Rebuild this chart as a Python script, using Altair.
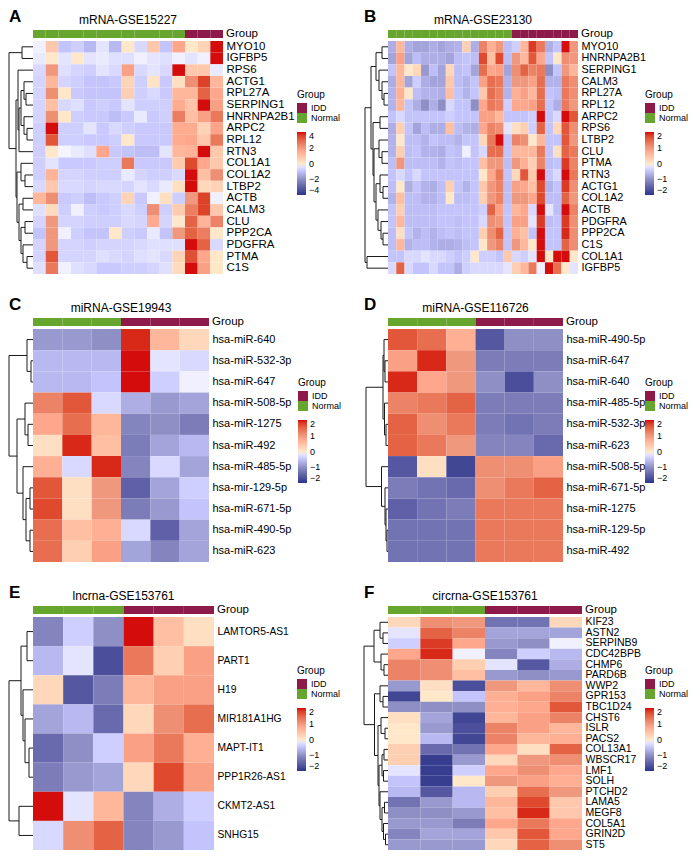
import altair as alt
import pandas as pd

FONT = "Liberation Sans"
HEAT_COLORS = ["#2C3589", "#8E8FC4", "#FFFFFF", "#F0987E", "#D40C0C"]
GROUP_NAMES = ["IDD", "Normal"]
GROUP_COLORS = ["#8E1A4A", "#66A52E"]
H = 233

# ---------------- Panel A: mRNA-GSE15227 ----------------
A_genes = ["MYO10", "IGFBP5", "RPS6", "ACTG1", "RPL27A", "SERPING1", "HNRNPA2B1", "ARPC2",
           "RPL12", "RTN3", "COL1A1", "COL1A2", "LTBP2", "ACTB", "CALM3", "CLU", "PPP2CA",
           "PDGFRA", "PTMA", "C1S"]
A_groups = ["Normal"] * 12 + ["IDD"] * 3
A_values = [
    [-0.2, 0.8, -1.0, -0.8, -1.2, -0.4, -1.2, 0.0, -0.6, 0.8, -1.0, 1.6, 0.0, 0.5, 4.0],
    [-0.3, 0.0, -0.4, 0.0, -0.4, -0.3, -0.5, -0.5, -0.2, -0.4, -0.5, -0.2, -0.4, -0.2, 4.0],
    [-0.6, 2.0, -0.5, -0.7, -0.8, -0.4, -0.6, 1.8, -0.6, -0.4, -0.6, 4.0, 0.8, 0.8, -0.3],
    [-0.7, 1.2, -0.7, -0.8, -1.0, -1.0, -0.9, 0.5, -0.8, 0.1, -0.9, 0.2, 2.2, 3.5, 1.2],
    [-0.7, 2.2, 0.0, -0.9, -1.0, -1.0, -1.0, 0.6, -0.8, -0.6, -0.9, 1.2, 1.2, 3.0, 1.6],
    [-0.7, 1.0, -0.6, -0.5, -0.9, -0.8, -0.9, -0.4, -0.8, -0.8, -0.8, 1.5, 0.9, 4.0, 1.8],
    [-0.7, 2.2, 0.0, -0.8, -0.9, -0.9, -1.1, -0.9, -0.3, -0.9, -0.8, 2.5, 1.0, 1.8, 2.6],
    [-0.8, 4.0, -0.8, -0.8, -0.4, -0.9, -0.6, -0.8, -0.9, -0.9, -0.9, 1.5, 1.5, 0.5, 1.7],
    [-0.8, 3.2, -0.8, -0.8, -0.9, -0.9, -0.8, 0.0, -0.9, -0.9, -0.9, 1.5, 1.6, 0.8, 2.6],
    [-0.8, 0.0, -0.1, -0.3, -0.5, 1.6, -0.9, -1.0, -1.1, -1.1, -0.4, 1.2, 1.3, 4.0, 0.8],
    [-0.8, -0.4, -0.9, -0.9, -0.9, -0.8, -0.8, 2.6, -0.9, -0.9, -0.9, 0.7, 3.4, 1.6, 0.8],
    [-0.8, 1.3, -0.7, -0.7, -0.8, -0.8, -0.8, -0.3, -0.7, -0.8, -0.8, -0.6, 4.0, 1.0, 2.2],
    [-0.6, 0.8, -0.6, -0.6, -0.7, -0.6, -0.6, -0.7, -0.4, -0.6, -0.3, 0.2, 4.0, 0.4, 0.5],
    [1.2, 2.2, -0.9, -0.8, -1.1, -0.9, -0.8, 0.5, -0.9, -0.2, 0.2, -0.8, 2.0, 3.5, -0.2],
    [-0.5, 0.3, -0.8, -0.2, -0.8, -0.9, -0.8, -0.6, -0.8, 2.2, -0.8, 0.7, 2.5, 3.5, 0.8],
    [-0.7, 2.0, -0.7, -0.7, -0.8, -0.8, -0.8, -0.6, -0.7, 1.5, -0.7, 0.0, 3.0, 1.3, 2.4],
    [-1.0, 2.0, -0.2, -0.8, -1.0, -1.0, 0.0, -0.8, -0.9, -0.3, -1.0, 2.0, 3.0, 2.5, 0.0],
    [-0.7, 2.0, -0.7, -0.7, -0.8, -0.7, -0.7, -0.7, -0.6, -0.5, -0.5, -0.5, 4.0, 3.0, -0.6],
    [-0.7, 3.2, -0.7, -0.7, -0.7, -0.5, -0.6, -0.7, -0.5, -0.4, -0.6, 0.5, 3.3, 1.6, 0.0],
    [-0.5, 2.6, -0.2, -0.5, -0.6, -0.9, -0.9, -0.8, -0.8, -0.7, -0.5, 0.3, 4.0, 1.8, 0.0],
]
A_tree = (24, (11, "MYO10", "IGFBP5"),
          (17, (15, "RPS6", (14, (12, (9, "ACTG1", (7, "RPL27A", "SERPING1")),
                                      (9, "HNRNPA2B1", (6, "ARPC2", "RPL12"))), "RTN3")),
               (16, (12, "COL1A1", (8, "COL1A2", "LTBP2")),
                    (14, (10, "ACTB", "CALM3"),
                         (12, (8, "CLU", "PPP2CA"), (10, "PDGFRA", (6, "PTMA", "C1S")))))))

# ---------------- Panel B: mRNA-GSE23130 ----------------
B_genes = ["MYO10", "HNRNPA2B1", "SERPING1", "CALM3", "RPL27A", "RPL12", "ARPC2", "RPS6",
           "LTBP2", "CLU", "PTMA", "RTN3", "ACTG1", "COL1A2", "ACTB", "PDGFRA", "PPP2CA",
           "C1S", "COL1A1", "IGFBP5"]
B_groups = ["Normal"] * 15 + ["IDD"] * 8
B_values = [
    [-0.7, 0.6, -0.7, -0.8, -0.8, -0.7, -0.8, -0.7, -0.65, 0.3, -0.7, 1.2, 0.7, 1.0, -0.55, -0.4, 0.6, 1.8, 1.3, -0.7, -0.5, 2.0, 1.0],
    [-0.8, 0.9, -0.8, -0.55, -0.7, -0.7, -0.7, -0.8, -0.55, -0.5, -0.55, 1.7, 0.5, 1.7, -0.55, 1.0, 0.6, 1.6, 0.8, -0.5, 0.0, 1.1, 1.0],
    [-0.5, 0.6, 0.0, 0.2, -0.9, -0.55, -0.8, 0.2, -0.55, -0.5, -0.8, 1.4, 0.8, 0.9, -0.8, 1.1, 1.5, 1.2, 1.3, -1.0, -0.5, 1.0, 0.6],
    [-0.7, 0.6, -0.8, -0.4, -0.7, -0.8, -0.8, 0.4, -0.55, -0.65, -0.5, 0.9, 1.4, 1.3, -0.65, 1.0, 1.0, 0.9, 1.4, -0.65, -0.65, 1.3, 1.1],
    [-0.65, 0.7, 0.0, -0.55, -0.65, -0.65, -0.7, 0.5, -0.5, -0.65, -0.5, 0.4, 1.4, 1.2, -0.65, 0.7, 0.9, 0.6, 1.4, -0.5, -0.55, 1.3, 1.1],
    [-0.65, 0.6, -0.5, -0.7, -1.0, -0.7, -1.0, -0.3, -0.5, -0.5, -1.0, 0.8, 1.3, 1.2, -0.4, 0.8, 0.8, 0.9, 1.4, -0.5, -0.7, 1.3, 1.0],
    [-0.5, -0.3, -0.5, -0.5, -0.5, -0.5, -0.5, -0.4, -0.5, -0.5, -0.5, 0.9, 0.9, 0.6, -0.5, -0.5, -0.5, -0.4, 2.0, -0.5, -0.3, 2.0, 1.6],
    [-0.7, 0.3, -0.5, -0.8, -0.55, -0.7, -0.7, 0.5, -0.55, -0.65, -0.7, 0.8, 1.2, 1.1, -0.2, 0.1, 0.3, -0.4, 1.5, -0.5, 0.2, 1.6, 1.1],
    [-0.65, 0.0, -0.55, -0.55, -0.65, -0.5, -0.55, -0.55, -0.65, -0.5, -0.5, 0.2, 1.3, 2.0, -0.5, 1.2, 1.1, 0.0, 0.6, -0.5, -0.5, 1.6, 1.0],
    [-0.65, 0.3, -0.55, -0.5, -0.65, -0.65, -0.7, -0.5, -0.55, -0.1, -0.5, -0.3, 1.4, 1.4, -0.5, 0.6, 0.6, 0.6, 1.3, -0.5, 0.1, 1.5, 1.3],
    [-0.55, 1.0, -0.55, -0.55, -0.55, -0.55, -0.65, -0.5, -0.55, -0.5, -0.5, 0.5, 1.0, 1.0, -0.55, 1.0, 0.7, 0.3, 1.2, -0.55, -0.5, 1.8, 1.2],
    [-0.5, -0.3, -0.5, -0.3, -0.5, -0.5, -0.5, -0.5, -0.5, -0.5, -0.5, 0.0, 0.8, 1.3, -0.5, 0.2, 1.6, 0.4, 2.0, -0.5, -0.3, 2.0, 1.3],
    [-0.55, 0.0, -0.7, -0.5, -0.65, -0.7, -0.55, 0.3, -0.5, -0.65, -0.5, 0.4, 1.0, 1.2, -0.55, 0.9, 0.8, 0.5, 1.7, -0.65, -0.5, 1.8, 1.1],
    [-0.65, 0.5, -0.55, -0.55, -0.65, -0.65, -0.55, 0.0, -0.55, -0.55, -0.5, 0.3, 1.0, 1.2, -0.55, 1.0, 1.0, 0.8, 1.7, -0.55, -0.55, 1.5, 1.0],
    [-0.5, 0.3, -0.55, -0.55, -0.55, -0.55, -0.5, -0.5, -0.5, -0.5, -0.5, -0.4, 1.5, 0.9, -0.5, 0.6, 0.8, -0.3, 2.0, -0.2, -0.55, 2.0, 1.2],
    [-0.5, 0.6, -0.55, -0.55, -0.55, -0.55, -0.5, -0.5, -0.55, -0.5, -0.5, -0.3, 1.1, 1.0, -0.5, 0.9, 0.9, -0.2, 1.8, -0.55, -0.5, 1.8, 1.1],
    [-0.55, 0.1, -0.5, -0.65, -0.55, -0.65, -0.55, -0.5, -0.55, -0.5, -0.5, 0.3, 1.1, 1.5, -0.5, 0.7, 0.5, -0.5, 2.0, -0.5, -0.5, 1.9, 1.1],
    [-0.55, 0.6, -0.65, -0.55, -0.55, -0.65, -0.7, -0.7, -0.65, -0.55, -0.5, 0.0, 1.0, 1.2, -0.5, 1.0, 0.6, 0.0, 2.0, -0.5, -0.5, 1.5, 1.1],
    [-0.5, -0.5, -0.3, -0.3, -0.2, -0.3, -0.3, -0.4, -0.5, -0.4, 0.0, -0.4, -0.4, -0.5, 0.4, -0.3, -0.4, -0.2, 2.0, 0.0, 2.0, 2.0, 0.0],
    [-0.3, 1.5, -0.3, -0.5, -0.5, -0.3, -0.5, -0.5, -0.7, -0.4, -0.3, -0.3, -0.3, -0.3, -0.2, 0.3, 0.6, 1.3, -0.1, 2.0, 1.4, 0.0, -0.2],
]
B_tree = (23, (17, (12, (6, "MYO10", "HNRNPA2B1"),
                        (9, "SERPING1", (6, "CALM3", (4, "RPL27A", "RPL12")))),
                   (15, (8, "ARPC2", "RPS6"),
                        (14, (9, "LTBP2", (6, "CLU", "PTMA")),
                             (12, (8, "RTN3", (5, "ACTG1", "COL1A2")),
                                  (10, "ACTB", (7, "PDGFRA", (5, "PPP2CA", "C1S"))))))),
          (21, "COL1A1", "IGFBP5"))

# ---------------- Panel C: miRNA-GSE19943 ----------------
C_genes = ["hsa-miR-640", "hsa-miR-532-3p", "hsa-miR-647", "hsa-miR-508-5p", "hsa-miR-1275",
           "hsa-miR-492", "hsa-miR-485-5p", "hsa-mir-129-5p", "hsa-miR-671-5p", "hsa-miR-490-5p",
           "hsa-miR-623"]
C_groups = ["Normal"] * 3 + ["IDD"] * 3
C_values = [
    [-0.9, -0.9, -1.0, 1.9, 0.6, 0.2],
    [-0.6, -0.6, -0.6, 2.0, -0.2, -0.3],
    [-0.6, -0.6, -0.5, 2.0, -0.4, -0.1],
    [1.2, 1.6, -0.3, -0.7, -0.9, -0.8],
    [0.8, 1.4, 0.6, -1.1, -1.0, -1.2],
    [0.1, 1.9, 0.5, -1.2, -0.8, -0.6],
    [0.7, -0.3, 1.9, -1.1, -0.3, -0.8],
    [1.6, 0.1, 1.0, -1.5, -0.8, -0.4],
    [1.7, 0.1, 1.0, -1.2, -0.9, -0.5],
    [1.4, 0.5, 0.7, -0.3, -1.5, -0.8],
    [1.4, 0.3, 0.9, -0.8, -1.1, -0.8],
]
C_tree = (24, (6, "hsa-miR-640", (2, "hsa-miR-532-3p", "hsa-miR-647")),
          (16, (8, "hsa-miR-508-5p", (5, "hsa-miR-1275", "hsa-miR-492")),
               (10, "hsa-miR-485-5p", (7, (3, "hsa-mir-129-5p", "hsa-miR-671-5p"),
                                          (3, "hsa-miR-490-5p", "hsa-miR-623")))))

# ---------------- Panel D: miRNA-GSE116726 ----------------
D_genes = ["hsa-miR-490-5p", "hsa-miR-647", "hsa-miR-640", "hsa-miR-485-5p", "hsa-miR-532-3p",
           "hsa-miR-623", "hsa-miR-508-5p", "hsa-miR-671-5p", "hsa-miR-1275", "hsa-miR-129-5p",
           "hsa-miR-492"]
D_groups = ["Normal"] * 3 + ["IDD"] * 3
D_values = [
    [1.6, 1.4, 0.7, -1.6, -1.0, -1.0],
    [0.9, 1.9, 1.0, -1.2, -1.2, -1.2],
    [1.9, 0.8, 1.0, -1.0, -1.7, -1.0],
    [1.2, 1.3, 1.5, -1.2, -1.2, -1.2],
    [1.5, 1.1, 1.3, -1.2, -1.3, -1.2],
    [1.5, 1.3, 1.0, -1.1, -1.1, -1.4],
    [-1.6, 0.1, -1.8, 1.1, 1.1, 0.9],
    [-1.2, -1.3, -1.4, 1.1, 1.3, 1.5],
    [-1.5, -1.3, -1.2, 1.3, 1.3, 1.3],
    [-1.3, -1.3, -1.3, 1.3, 1.3, 1.3],
    [-1.3, -1.3, -1.3, 1.3, 1.3, 1.3],
]
D_tree = (22, (5, (4, "hsa-miR-490-5p", (3, "hsa-miR-647", "hsa-miR-640")),
                  (3.5, "hsa-miR-485-5p", (2, "hsa-miR-532-3p", "hsa-miR-623"))),
          (6.5, "hsa-miR-508-5p", (3, "hsa-miR-671-5p",
                                   (2, "hsa-miR-1275", (1, "hsa-miR-129-5p", "hsa-miR-492")))))

# ---------------- Panel E: lncrna-GSE153761 ----------------
E_genes = ["LAMTOR5-AS1", "PART1", "H19", "MIR181A1HG", "MAPT-IT1", "PPP1R26-AS1",
           "CKMT2-AS1", "SNHG15"]
E_groups = ["Normal"] * 3 + ["IDD"] * 3
E_values = [
    [-1.1, -0.4, -1.0, 2.0, 0.5, 0.1],
    [-0.6, -0.2, -1.7, 1.3, 0.3, 0.9],
    [0.2, -1.6, -1.2, 0.6, 0.9, 0.9],
    [-0.8, -0.6, -1.4, 0.2, 1.1, 1.4],
    [-1.4, -1.0, -0.4, 0.9, 1.3, 0.7],
    [-1.2, -0.9, -0.8, 0.2, 1.7, 0.9],
    [2.0, -0.2, 0.6, -1.1, -0.7, -0.4],
    [-0.3, 1.1, 1.5, -1.1, -0.9, -0.5],
]
E_tree = (24, (12, (6, "LAMTOR5-AS1", "PART1"),
                   (10, "H19", (8, "MIR181A1HG", (4, "MAPT-IT1", "PPP1R26-AS1")))),
          (14, "CKMT2-AS1", "SNHG15"))

# ---------------- Panel F: circrna-GSE153761 ----------------
F_genes = ["KIF23", "ASTN2", "SERPINB9", "CDC42BPB", "CHMP6", "PARD6B", "WWP2", "GPR153",
           "TBC1D24", "CHST6", "ISLR", "PACS2", "COL13A1", "WBSCR17", "LMF1", "SOLH", "PTCHD2",
           "LAMA5", "MEGF8", "COL5A1", "GRIN2D", "ST5"]
F_groups = ["Normal"] * 3 + ["IDD"] * 3
F_values = [
    [0.2, 1.1, 1.0, -1.3, -1.3, 0.2],
    [-0.2, 1.5, 1.2, -0.8, -0.8, -0.8],
    [-0.4, 1.8, 0.8, -0.9, -1.0, -0.1],
    [0.8, 1.9, -0.1, -1.1, -0.4, -0.6],
    [1.2, 1.1, 0.3, -0.2, -1.6, -0.7],
    [1.2, 1.1, 0.5, -0.9, -1.0, -0.9],
    [-0.9, 0.1, -1.7, 1.0, 0.6, 1.1],
    [-1.8, 0.0, -0.5, 0.7, 0.9, 1.2],
    [-1.0, -1.0, -1.0, 0.7, 0.8, 1.6],
    [0.1, -0.8, -1.8, 0.6, 0.9, 1.2],
    [0.0, -0.9, -1.7, 1.2, 0.9, 0.6],
    [0.0, -0.6, -1.8, 1.2, 0.6, 0.7],
    [0.3, -1.4, -1.3, 0.8, 0.1, 1.5],
    [0.3, -1.9, -0.9, 0.2, 1.0, 1.1],
    [-0.2, -1.9, -0.4, 0.8, 1.1, 0.8],
    [-0.5, -1.9, 0.0, 1.0, 0.9, 0.7],
    [-0.6, -1.6, -0.6, 0.3, 1.4, 1.0],
    [-1.3, -0.9, -0.6, 0.6, 1.7, 0.4],
    [-1.0, -1.0, -0.9, 0.5, 1.9, 0.4],
    [-0.9, -0.9, -1.2, 0.8, 1.3, 0.8],
    [-1.1, -0.8, -0.8, 0.4, 1.6, 0.8],
    [-0.9, -0.9, -0.9, 0.2, 1.5, 1.1],
]
F_tree = (24, (14, (8, "KIF23", (5, "ASTN2", "SERPINB9")), (7, "CDC42BPB", (4, "CHMP6", "PARD6B"))),
          (13.5, (8, "WWP2", (5, "GPR153", "TBC1D24")),
                 (10, (7, "CHST6", (3, "ISLR", "PACS2")),
                      (9, (6, (4, "COL13A1", "WBSCR17"), (4.5, "LMF1", "SOLH")),
                          (8, "PTCHD2", (6, (3.5, "LAMA5", "MEGF8"),
                                           (4.5, "COL5A1", (2.5, "GRIN2D", "ST5"))))))))


def dendro_segments(tree, names):
    idx = {n: i for i, n in enumerate(names)}
    segs = []

    def walk(node):
        if isinstance(node, str):
            return idx[node] + 0.5, 0.0
        h, a, b = node
        ya, ha = walk(a)
        yb, hb = walk(b)
        segs.append({"x": h, "x2": h, "y": ya, "y2": yb})
        segs.append({"x": ha, "x2": h, "y": ya, "y2": ya})
        segs.append({"x": hb, "x2": h, "y": yb, "y2": yb})
        return (ya + yb) / 2, h

    walk(tree)
    return pd.DataFrame(segs)


def panel(letter, title, genes, groups, values, tree, lim, width, label_size, legend_x):
    n = len(genes)
    samples = [f"S{j + 1}" for j in range(len(groups))]
    heat_df = pd.DataFrame([
        {"gene": g, "sample": samples[j], "value": v}
        for i, g in enumerate(genes) for j, v in enumerate(values[i])
    ])
    grp_df = pd.DataFrame({"sample": samples, "group": groups})
    seg_df = dendro_segments(tree, genes)

    band = alt.Scale(paddingInner=0, paddingOuter=0)

    dend = alt.Chart(seg_df).mark_rule(color="#1a1a1a", strokeWidth=1).encode(
        x=alt.X("x:Q", scale=alt.Scale(domain=[0, -width], nice=False, zero=False), axis=None),
        x2="x2:Q",
        y=alt.Y("y:Q", scale=alt.Scale(domain=[0, n], reverse=True, nice=False, zero=False), axis=None),
        y2="y2:Q",
    )

    grp = alt.Chart(grp_df).mark_rect().encode(
        x=alt.X("sample:N", sort=samples, axis=None, scale=band),
        y=alt.value(-11),
        y2=alt.value(-3),
        color=alt.Color(
            "group:N",
            scale=alt.Scale(domain=GROUP_NAMES, range=GROUP_COLORS),
            legend=alt.Legend(
                orient="none", legendX=legend_x, legendY=49, direction="vertical",
                title="Group", titleFontSize=10, titleFontWeight="normal", titleFont=FONT,
                titleColor="black", titlePadding=3, labelFontSize=9, labelFont=FONT,
                labelColor="black", labelOffset=4, symbolType="square", symbolSize=100,
                symbolStrokeWidth=0, rowPadding=0, padding=0,
            ),
        ),
    )

    heat = alt.Chart(heat_df).mark_rect().encode(
        x=alt.X("sample:N", sort=samples, axis=None, scale=band),
        y=alt.Y(
            "gene:N", sort=genes, scale=band,
            axis=alt.Axis(orient="right", title=None, ticks=False, domain=False, labelPadding=3,
                          labelFontSize=label_size, labelFont=FONT, labelColor="black",
                          labelOverlap=False, labelLimit=300),
        ),
        color=alt.Color(
            "value:Q",
            scale=alt.Scale(domain=[-lim, -lim / 2, 0, lim / 2, lim], range=HEAT_COLORS, clamp=True),
            legend=alt.Legend(
                orient="none", legendX=legend_x, legendY=91, direction="vertical", title=None,
                gradientLength=63, gradientThickness=9,
                values=[lim, lim // 2, 0, -(lim // 2), -lim],
                labelFontSize=9, labelFont=FONT, labelColor="black", labelOffset=3,
                labelBaseline="middle", labelOverlap=False, gradientStrokeWidth=0, padding=0,
            ),
        ),
    )

    grp_label = alt.Chart(pd.DataFrame({"t": ["Group"]})).mark_text(
        align="left", baseline="middle", font=FONT, fontSize=11.5, color="black"
    ).encode(text="t:N", x=alt.value(width + 3), y=alt.value(-7))

    letter_text = alt.Chart(pd.DataFrame({"t": [letter]})).mark_text(
        align="left", baseline="alphabetic", font=FONT, fontSize=17, fontWeight="bold", color="black"
    ).encode(text="t:N", x=alt.value(-24), y=alt.value(-19))

    title_text = alt.Chart(pd.DataFrame({"t": [title]})).mark_text(
        align="center", baseline="middle", font=FONT, fontSize=12, color="black"
    ).encode(text="t:N", x=alt.value(width / 2), y=alt.value(-21))

    return alt.layer(dend, grp, heat, grp_label, letter_text, title_text).resolve_scale(
        x="independent", y="independent", color="independent"
    ).properties(width=width, height=H)


pA = panel("A", "mRNA-GSE15227", A_genes, A_groups, A_values, A_tree, 4, 190, 11.5, 264)
pB = panel("B", "mRNA-GSE23130", B_genes, B_groups, B_values, B_tree, 2, 190, 10.9, 257)
pC = panel("C", "miRNA-GSE19943", C_genes, C_groups, C_values, C_tree, 2, 176, 11, 265)
pD = panel("D", "miRNA-GSE116726", D_genes, D_groups, D_values, D_tree, 2, 175, 11, 257)
pE = panel("E", "lncrna-GSE153761", E_genes, E_groups, E_values, E_tree, 2, 181, 10.3, 264)
pF = panel("F", "circrna-GSE153761", F_genes, F_groups, F_values, F_tree, 2, 194, 10.5, 257)

chart = alt.concat(
    pA, pB, pC, pD, pE, pF,
    columns=2,
    spacing={"row": 55, "column": 165},
    bounds="flush",
    align="each",
).resolve_scale(
    color="independent", x="independent", y="independent"
).properties(
    padding=0
).configure_view(
    strokeWidth=0
)

chart.save("out.html", embed_options={"renderer": "svg", "actions": False})
